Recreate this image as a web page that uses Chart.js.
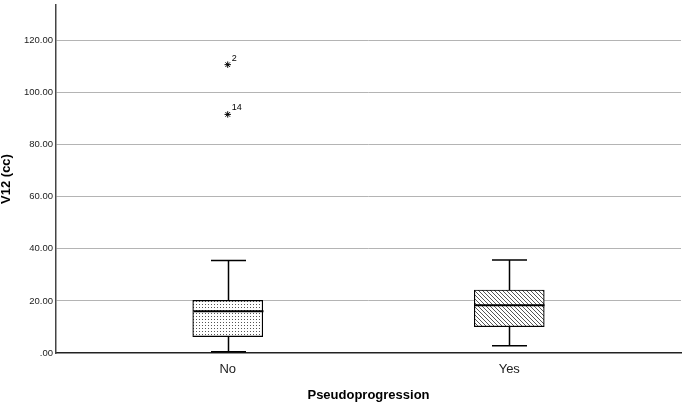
<!DOCTYPE html>
<html>
<head>
<meta charset="utf-8">
<script src="https://cdn.jsdelivr.net/npm/chart.js@4.4.1/dist/chart.umd.min.js"></script>
<style>
  html, body { margin: 0; padding: 0; background: #fff; }
  #wrap { width: 686px; height: 403px; }
</style>
</head>
<body>
<div id="wrap"><canvas id="chart-box" width="686" height="403"></canvas></div>
<script>
(function () {
  "use strict";

  // values
  var groups = ["No", "Yes"];
  var whiskerLow = [0.5, 2.8];
  var q1 = [6.3, 10.1];
  var median = [16.0, 18.3];
  var q3 = [20.2, 24.2];
  var whiskerHigh = [35.5, 35.7];

  var outlierGroup = [0, 0];
  var outlierValues = [110.7, 91.6];
  var outlierIds = ["2", "14"];

  var yTicks = [0, 20, 40, 60, 80, 100, 120];

  function makePattern(size, dots) {
    var c = document.createElement("canvas");
    c.width = size;
    c.height = size;
    var g = c.getContext("2d");
    g.fillStyle = "#ffffff";
    g.fillRect(0, 0, size, size);
    g.fillStyle = "#555555";
    dots.forEach(function (d) {
      g.fillRect(d[0], d[1], 1, 1);
    });
    return g.createPattern(c, "repeat");
  }

  var dotted = makePattern(3, [[1, 1]]);
  var hatched = makePattern(4, [[0, 0], [1, 1], [2, 2], [3, 3]]);

  var whiskerPlugin = {
    id: "whiskers",
    afterDatasetsDraw: function (chart) {
      var ctx = chart.ctx;
      var x = chart.scales.x;
      var y = chart.scales.y;
      var bars = chart.getDatasetMeta(0).data;
      ctx.save();
      ctx.strokeStyle = "#000";
      groups.forEach(function (g, i) {
        var cx = Math.round(x.getPixelForValue(i + 1)) + 0.5;
        var w = bars[i].width;
        var cap = w / 4;
        var yHi = y.getPixelForValue(whiskerHigh[i]);
        var yLo = y.getPixelForValue(whiskerLow[i]);
        var yQ3 = y.getPixelForValue(q3[i]);
        var yQ1 = y.getPixelForValue(q1[i]);
        var yMed = y.getPixelForValue(median[i]);

        ctx.lineWidth = 1.5;
        ctx.beginPath();
        ctx.moveTo(cx, yQ3);
        ctx.lineTo(cx, yHi);
        ctx.moveTo(cx - cap, yHi);
        ctx.lineTo(cx + cap, yHi);
        ctx.moveTo(cx, yQ1);
        ctx.lineTo(cx, yLo);
        ctx.moveTo(cx - cap, yLo);
        ctx.lineTo(cx + cap, yLo);
        ctx.stroke();

        ctx.lineWidth = 2;
        ctx.beginPath();
        ctx.moveTo(cx - w / 2, yMed);
        ctx.lineTo(cx + w / 2, yMed);
        ctx.stroke();
      });

      // case numbers next to the outliers
      var pts = chart.getDatasetMeta(1).data;
      ctx.fillStyle = "#000";
      ctx.font = "9px 'Liberation Sans', Arial, sans-serif";
      ctx.textAlign = "left";
      ctx.textBaseline = "middle";
      outlierIds.forEach(function (id, i) {
        ctx.fillText(id, pts[i].x + 4, pts[i].y - 6.5);
      });
      ctx.restore();
    }
  };

  Chart.defaults.font.family = "'Liberation Sans', Arial, sans-serif";
  Chart.defaults.color = "#222";

  document.addEventListener("DOMContentLoaded", function () {
    var canvas = document.getElementById("chart-box");
    new Chart(canvas, {
      type: "bar",
      data: {
        datasets: [
          {
            data: groups.map(function (g, i) {
              return { x: i + 1, y: [q1[i], q3[i]] };
            }),
            backgroundColor: [dotted, hatched],
            borderColor: "#000",
            borderWidth: 1.2,
            borderSkipped: false,
            barThickness: 70,
          },
          {
            type: "scatter",
            data: outlierValues.map(function (v, i) {
              return { x: outlierGroup[i] + 1, y: v };
            }),
            pointStyle: "star",
            radius: 3.2,
            borderColor: "#000",
            backgroundColor: "#000",
            borderWidth: 1,
          },
        ],
      },
      options: {
        responsive: false,
        animation: false,
        layout: { padding: { left: 0, right: 2, top: 0, bottom: 0 } },
        plugins: { legend: { display: false }, tooltip: { enabled: false } },
        scales: {
          x: {
            type: "linear",
            offset: false,
            bounds: "data",
            min: 0.39,
            max: 2.61,
            afterBuildTicks: function (scale) {
              scale.ticks = groups.map(function (g, i) {
                return { value: i + 1 };
              });
            },
            afterFit: function (scale) {
              scale.height = 50;
              scale.paddingLeft = 0;
              scale.paddingRight = 0;
            },
            ticks: {
              padding: 8.5,
              font: { size: 13 },
              callback: function (value) {
                return groups[value - 1];
              },
            },
            grid: { display: false, drawTicks: false, offset: false },
            border: { display: true, color: "#222", width: 1.5 },
            title: {
              display: true,
              text: "Pseudoprogression",
              color: "#000",
              font: { size: 13, weight: "bold" },
              padding: { top: 0, bottom: 0 },
            },
          },
          y: {
            min: 0,
            max: 133.6,
            afterBuildTicks: function (scale) {
              scale.ticks = yTicks.map(function (v) {
                return { value: v };
              });
            },
            afterFit: function (scale) {
              scale.width = 56;
              scale.paddingTop = 0;
              scale.paddingBottom = 0;
            },
            ticks: {
              padding: 3,
              font: { size: 9.5 },
              callback: function (value) {
                return value === 0 ? ".00" : value.toFixed(2);
              },
            },
            grid: {
              drawTicks: false,
              color: function (ctx) {
                return ctx.tick && ctx.tick.value === 0 ? "rgba(0,0,0,0)" : "#b4b4b4";
              },
            },
            border: { display: true, color: "#444", width: 1.5 },
            title: {
              display: true,
              text: "V12 (cc)",
              color: "#000",
              font: { size: 13, weight: "bold", lineHeight: 1 },
              padding: 0,
            },
          },
        },
      },
      plugins: [whiskerPlugin],
    });
  });
})();
</script>
</body>
</html>
